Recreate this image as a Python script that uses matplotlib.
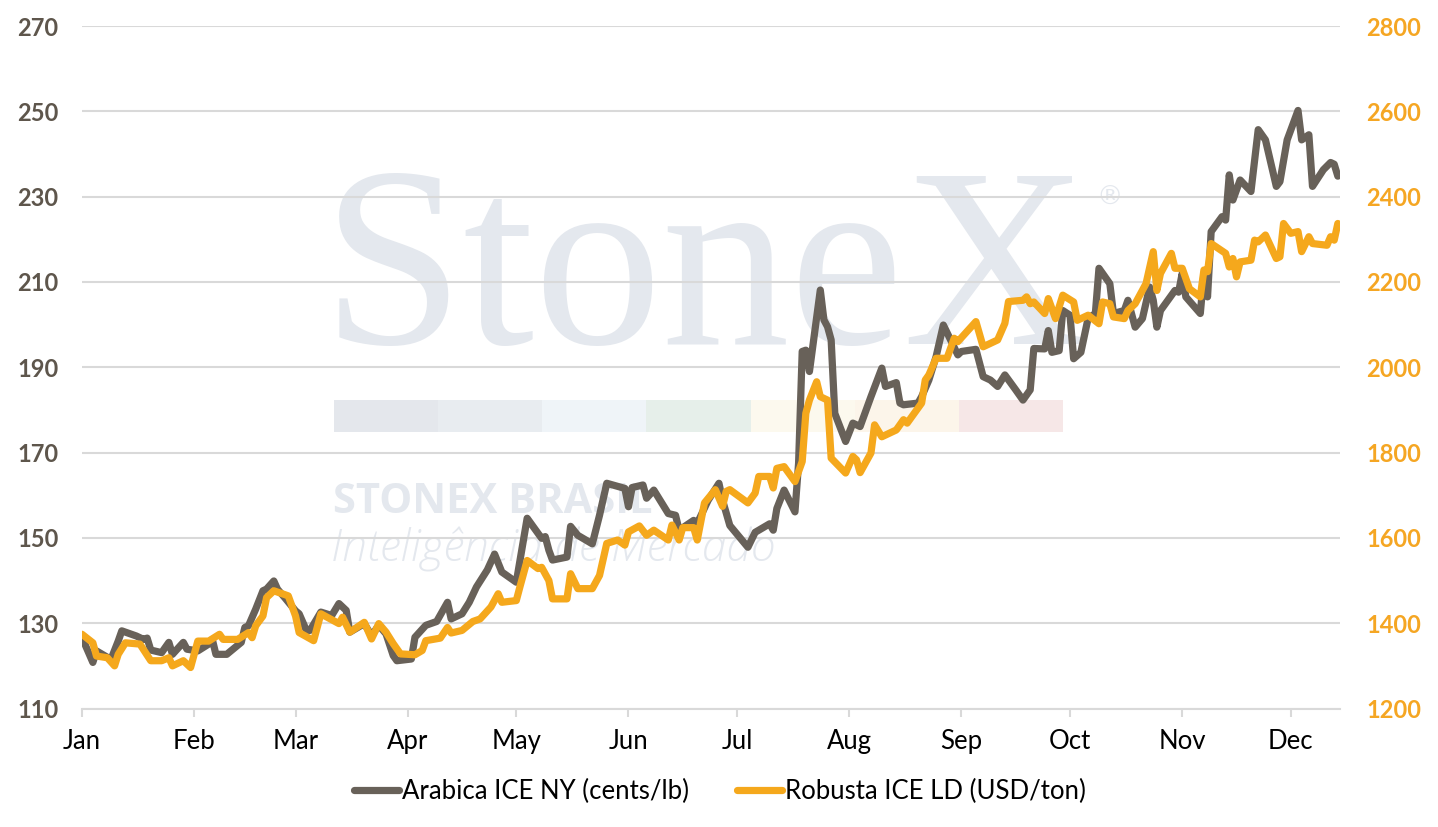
import matplotlib
matplotlib.use("Agg")
import matplotlib.pyplot as plt
from matplotlib.patches import Rectangle
import pandas as pd

# ---------------- data ----------------
arabica_day = [0,1,3,4,8,10,11,15,17,18,19,22,24,25,28,29,32,35,36,37,40,44,45,46,48,50,51,53,54,56,
               59,60,62,63,66,69,71,73,74,78,80,82,84,86,87,91,92,95,98,101,102,105,107,109,112,114,116,
               120,123,127,128,129,130,134,135,137,141,143,145,150,151,152,155,156,158,162,164,165,169,170,
               173,176,177,179,184,186,190,191,192,194,197,198,199,200,201,204,205,206,207,208,211,213,215,
               218,221,222,225,226,227,231,232,234,236,238,240,242,243,247,249,251,253,255,258,260,262,263,
               266,267,268,270,271,273,274,276,278,280,281,284,285,288,289,291,293,295,296,297,298,302,303,
               304,305,309,310,311,312,315,316,317,318,320,323,325,327,330,331,333,336,337,339,340,343,345,
               346,347]
arabica_val = [127,124.7,120.8,123.5,121.5,125.8,128.2,127,126.2,126.5,123.7,123.1,125.5,122.7,125.5,123.9,
               123.5,125.1,126.2,122.7,122.7,125.5,129,129.4,133.3,137.6,138,139.9,138,136,
               132.9,132.2,128.3,128.3,132.6,131.8,134.6,133,127.9,129.9,127.1,129.5,127.5,122.4,121.2,121.6,
               126.7,129.5,130.4,134.9,131,132.2,134.9,138.5,142.5,146.2,142,
               139.6,154.6,149.9,150.3,147.1,144.8,145.5,152.7,150.6,148.6,155.3,162.8,161.6,157.3,161.8,
               162.4,159.3,161.2,155.7,155.3,151.8,154.1,153.4,
               158.8,162.8,158.8,152.9,147.8,151.3,153.3,151.8,156.9,161.2,156.1,167.5,193.7,194,189,
               208.1,201.1,199.5,196.4,179.2,172.6,176.9,176.1,
               183.1,189.8,185.5,186.4,181.6,181.2,181.6,183.1,187,192.5,199.9,196.4,192.9,193.7,194.2,
               187.8,187,185.5,188.2,184.7,182.3,184.7,194.4,
               194.3,198.6,193.5,193.9,203.3,202.2,192,193.5,201.5,202.6,213.2,209.6,202.6,203.3,205.7,
               199.4,201.4,208.8,205.7,199.4,203.3,208,207.6,
               212,206.5,202.6,212,206.5,221.8,225.3,224.5,235.1,229.2,233.9,231.2,245.7,243.3,232.4,
               233.5,243.3,250.2,243.3,244.5,232.4,236.3,238,
               237.6,234.8]

robusta_day = [0,3,4,7,9,10,12,16,19,22,24,25,28,30,32,35,38,39,43,46,47,48,50,51,53,57,59,60,64,66,
               71,72,74,78,80,82,84,86,88,92,94,95,99,101,102,105,108,110,113,115,116,120,121,123,126,127,
               129,130,134,135,137,141,143,145,148,150,151,154,156,158,162,163,165,166,169,170,172,175,177,
               178,179,184,186,187,190,191,192,194,197,199,200,201,203,204,206,207,211,213,214,215,218,219,
               221,225,227,228,231,232,233,234,236,239,241,242,247,249,253,255,256,260,261,262,263,266,267,
               269,271,274,275,278,281,282,284,285,288,289,291,294,296,297,298,301,302,304,306,309,310,311,
               312,316,317,318,319,320,323,324,325,327,330,331,332,334,336,337,339,340,344,345,346,347]
robusta_val = [1374,1354,1323,1319,1300,1327,1354,1351,1312,1312,1319,1300,1312,1296,1358,1358,1374,1362,
               1362,1378,1366,1394,1417,1460,1476,1464,1417,1378,1359,1422,
               1399,1414,1379,1402,1363,1399,1379,1352,1328,1326,1336,1359,1365,1390,1377,1383,1404,1410,
               1438,1469,1449,1453,1485,1547,1528,1531,
               1500,1457,1457,1516,1481,1481,1512,1587,1595,1583,1614,1628,1606,1618,1595,1630,1595,1624,
               1624,1595,1682,1713,1674,
               1709,1713,1682,1705,1744,1744,1717,1763,1767,1732,1779,1892,1923,1966,1931,1923,1787,1752,
               1791,1783,1753,1799,1865,
               1837,1853,1877,1869,1904,1916,1970,1982,2021,2021,2068,2060,2107,2048,2064,2103,2154,2157,
               2165,2149,2153,2126,2161,
               2114,2169,2153,2110,2122,2102,2153,2149,2118,2114,2133,2149,2196,2271,2180,2220,2267,2232,
               2232,2184,2165,2228,2224,
               2290,2267,2235,2255,2212,2247,2251,2298,2294,2310,2255,2259,2337,2314,2318,2271,2306,2290,
               2286,2306,2298,2337]

start_date = "2021-01-01"
month_labels = ["Jan", "Feb", "Mar", "Apr", "May", "Jun", "Jul", "Aug", "Sep", "Oct", "Nov", "Dec"]
left_ticks = [110, 130, 150, 170, 190, 210, 230, 250, 270]
right_ticks = [1200, 1400, 1600, 1800, 2000, 2200, 2400, 2600, 2800]
series_names = ["Arabica ICE NY (cents/lb)", "Robusta ICE LD (USD/ton)"]

# ---------------- styling ----------------
C_ARA = "#686159"
C_ROB = "#F5A81C"
C_GRID = "#D9D9D9"
C_WM = "#E4E8EE"
FONT = ["Lato", "DejaVu Sans"]
plt.rcParams["font.family"] = FONT

W, H = 1438, 827
fig = plt.figure(figsize=(W / 100, H / 100), dpi=100)
fig.patch.set_facecolor("white")
ax = fig.add_axes([82 / W, 1 - 708.5 / H, (1340 - 82) / W, (708.5 - 26) / H])
ax2 = ax.twinx()

t0 = pd.Timestamp(start_date)
a_dates = t0 + pd.to_timedelta(arabica_day, unit="D")
r_dates = t0 + pd.to_timedelta(robusta_day, unit="D")

# watermark (behind everything)
ax.text(322 / W, 1 - 344 / H, "StoneX", transform=fig.transFigure, family="Liberation Serif",
        fontsize=184, color=C_WM, ha="left", va="baseline", zorder=0.1)
ax.text(1096 / W, 1 - 205 / H, "®", transform=fig.transFigure, family="DejaVu Sans",
        fontsize=19, color=C_WM, ha="left", va="baseline", zorder=0.1)
bar_colors = ["#E4E7EC", "#E8ECF0", "#EFF4F8", "#E6EFEA", "#FCF9EE", "#FCF5EA", "#F6E7E7"]
seg = (1063 - 334) / len(bar_colors)
for i, c in enumerate(bar_colors):
    ax.add_patch(Rectangle(((334 + i * seg) / W, 1 - 432 / H), seg / W, 32 / H,
                           transform=fig.transFigure, facecolor=c, edgecolor="none", zorder=0.1))
ax.text(333 / W, 1 - 513 / H, "STONEX BRASIL", transform=fig.transFigure, family="Open Sans",
        fontweight="bold", fontsize=30, color=C_WM, ha="left", va="baseline", zorder=0.1)
ax.text(331 / W, 1 - 561 / H, "Inteligência de Mercado", transform=fig.transFigure, family="Open Sans",
        fontweight="light", fontstyle="italic", fontsize=32, color=C_WM, ha="left", va="baseline",
        zorder=0.1)

# lines
l1, = ax.plot(a_dates, arabica_val, color=C_ARA, lw=5.2, solid_joinstyle="round",
              solid_capstyle="round", zorder=3, label=series_names[0])
l2, = ax2.plot(r_dates, robusta_val, color=C_ROB, lw=5.2, solid_joinstyle="round",
               solid_capstyle="round", zorder=3, label=series_names[1])

# axes limits & ticks
ax.set_xlim(t0, t0 + pd.Timedelta(days=347.6))
ax.set_ylim(left_ticks[0], left_ticks[-1])
ax2.set_ylim(right_ticks[0], right_ticks[-1])
ax.set_yticks(left_ticks)
ax2.set_yticks(right_ticks)

month_pos = [t0 + pd.DateOffset(months=i) for i in range(len(month_labels))]
ax.set_xticks(month_pos)
ax.set_xticklabels(month_labels)

ax.grid(axis="y", color=C_GRID, lw=1.5, zorder=1)
ax.set_axisbelow(True)
for a in (ax, ax2):
    for s in ("top", "left", "right", "bottom"):
        a.spines[s].set_visible(False)
ax.axhline(left_ticks[0], color=C_GRID, lw=1.5, zorder=1.2, clip_on=False)

ax.tick_params(axis="x", length=6, width=1.5, color=C_GRID, pad=9, labelsize=18.5, labelcolor="black")
ax.tick_params(axis="y", length=0, pad=17, labelsize=17, labelcolor="#5E564C")
ax2.tick_params(axis="y", length=0, pad=19, labelsize=17, labelcolor="#F5A623")
for lab in ax.get_yticklabels() + ax2.get_yticklabels():
    lab.set_fontweight("bold")

ax.patch.set_visible(False)
ax2.patch.set_visible(False)

leg = fig.legend(handles=[l1, l2], labels=series_names, loc="center",
                 bbox_to_anchor=(720 / W, 1 - 791 / H), ncol=2, frameon=False, fontsize=18.5,
                 handlelength=1.75, handletextpad=0.12, columnspacing=1.85)
for h in leg.legend_handles:
    h.set_linewidth(5.2)

fig.savefig("out.png", dpi=100, facecolor="white")
